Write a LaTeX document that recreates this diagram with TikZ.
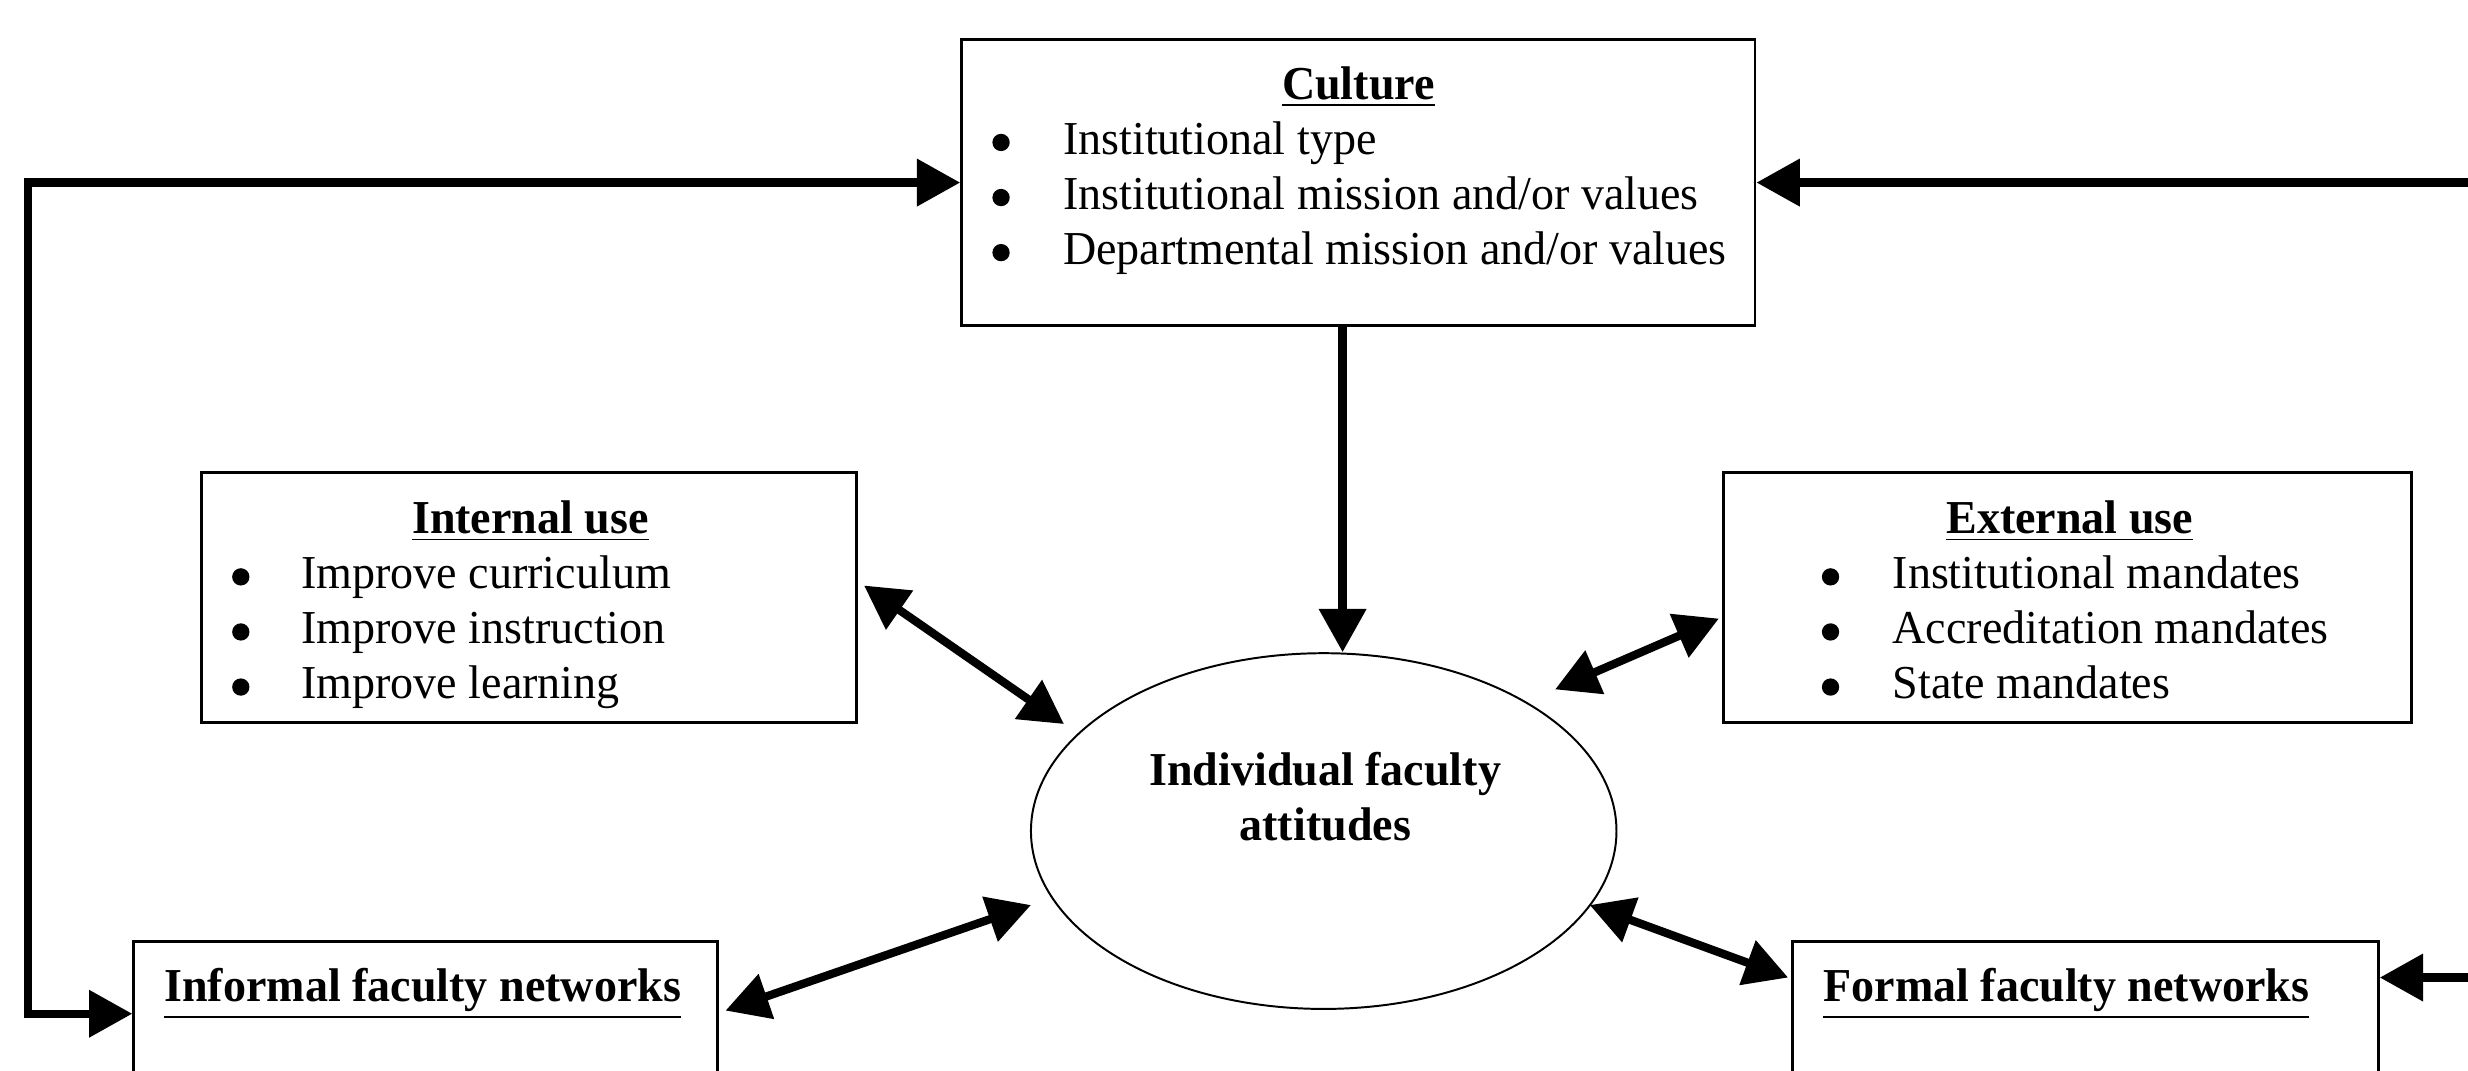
\documentclass[tikz,border=0pt]{standalone}
\usepackage{fontspec}
\setmainfont[FakeStretch=0.975]{Liberation Serif}
\usetikzlibrary{arrows.meta,shapes.geometric,positioning}

\begin{document}
\begin{tikzpicture}[x=0.4pt,y=-0.4pt,
	box/.style={draw,line width=0.75pt,rectangle,inner sep=0pt},
	oval/.style={draw,line width=0.5pt,ellipse,inner sep=0pt},
	ttl/.style={font=\fontsize{12}{14}\selectfont\bfseries,inner sep=0pt},
	lst/.style={font=\fontsize{12}{14}\selectfont,anchor=base west,inner sep=0pt},
	both/.style={line width=2.1pt,{Triangle[length=11pt,width=11.6pt]}-{Triangle[length=11pt,width=11.6pt]}},
	one/.style={line width=2.1pt,-{Triangle[length=11pt,width=11.6pt]}}]
	\path[use as bounding box,clip] (0,0) rectangle (1568,680);
	%
	%  BOXES
	%
	\node[box,minimum width=201.6pt,minimum height=72.8pt] (culture) at (863,116) {};
	\node[box,minimum width=166.4pt,minimum height=63.6pt] (internal) at (336,379.5) {};
	\node[box,minimum width=174.8pt,minimum height=63.6pt] (external) at (1313.5,379.5) {};
	\node[box,minimum width=148.4pt,minimum height=64.8pt] (informal) at (270.5,679) {};
	\node[box,minimum width=148.8pt,minimum height=64.8pt] (formal) at (1325,679) {};
	\node[oval,minimum width=148.8pt,minimum height=90.4pt] (ell) at (841,528) {};
	%
	%  TEXTS
	%
	\node[ttl,anchor=base] (culturet) at (863,63) {\underline{Culture}};
	\node[lst] (culturel) at (675,98) {\begin{tabular}[t]{@{}l@{}}
		Institutional type\\
		Institutional mission and/or values\\
		Departmental mission and/or values
	\end{tabular}};
	\node[ttl,anchor=base] (internalt) at (337,339) {\underline{Internal use}};
	\node[lst] (internall) at (191,374) {\begin{tabular}[t]{@{}l@{}}
		Improve curriculum\\
		Improve instruction\\
		Improve learning
	\end{tabular}};
	\node[ttl,anchor=base] (externalt) at (1315,339) {\underline{External use}};
	\node[lst] (externall) at (1202,374) {\begin{tabular}[t]{@{}l@{}}
		Institutional mandates\\
		Accreditation mandates\\
		State mandates
	\end{tabular}};
	\node[ttl,anchor=base west] (informalt) at (104,636) {\underline{Informal faculty networks}};
	\node[ttl,anchor=base west] (formalt) at (1158,636) {\underline{Formal faculty networks}};
	\node[ttl,anchor=base,align=center] (ellt) at (842,534) {Individual faculty\\attitudes};
	%
	%  BULLETS
	%
	\foreach \y in {0,35,70} {
		\fill (636,90.5+\y) circle (2.2pt);
		\fill (153,366.5+\y) circle (2.2pt);
		\fill (1163,366.5+\y) circle (2.2pt);
	}
	%
	%  ARROWS
	%
	\coordinate (lx) at (18,0);
	\coordinate (rx) at (1620,0);
	\draw[both] (culture.west) -- (culture.west -| lx) |- ([yshift=-18.8pt]informal.north west);
	\draw[both] (culture.east) -- (culture.east -| rx) |- ([yshift=-9.6pt]formal.north east);
	\draw[one] ([xshift=-4pt]culture.south) -- ([xshift=-4pt]culture.south |- ell.north);
	\draw[both] ([shift={(1.6pt,3pt)}]internal.east) -- ([shift={(-66pt,27.2pt)}]ell.center);
	\draw[both] ([shift={(-0.8pt,-5.4pt)}]external.west) -- ([shift={(58.8pt,36pt)}]ell.center);
	\draw[both] ([shift={(1.6pt,-18pt)}]informal.north east) -- ([shift={(-74.4pt,-18.8pt)}]ell.center);
	\draw[both] ([shift={(-0.8pt,-9.6pt)}]formal.north west) -- ([shift={(67.6pt,-18.8pt)}]ell.center);
\end{tikzpicture}
\end{document}
